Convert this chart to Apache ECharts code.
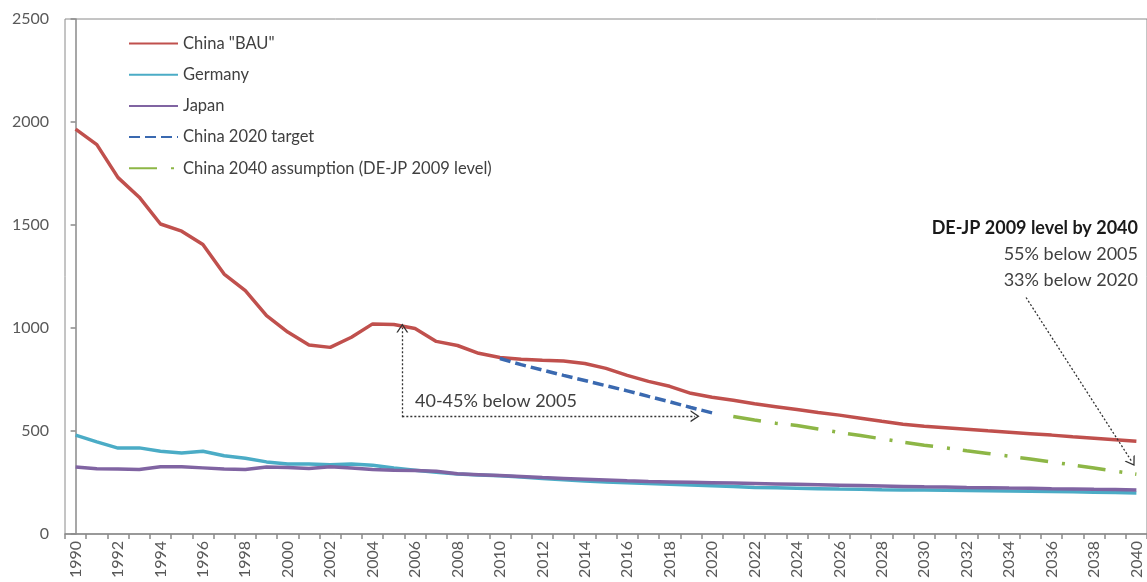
<!DOCTYPE html>
<html><head><meta charset="utf-8">
<script src="https://cdn.jsdelivr.net/npm/echarts@6/dist/echarts.min.js"></script>
<style>html,body{margin:0;padding:0;background:#fff}#c{width:1147px;height:582px}</style>
</head><body><div id="c"></div>
<script>
const years = ['1990','1991','1992','1993','1994','1995','1996','1997','1998','1999',
  '2000','2001','2002','2003','2004','2005','2006','2007','2008','2009',
  '2010','2011','2012','2013','2014','2015','2016','2017','2018','2019',
  '2020','2021','2022','2023','2024','2025','2026','2027','2028','2029',
  '2030','2031','2032','2033','2034','2035','2036','2037','2038','2039','2040'];
const yTicks = [0, 500, 1000, 1500, 2000, 2500];

const chinaBAU = [1965,1890,1730,1635,1505,1470,1405,1262,1182,1060,
  980,918,906,955,1020,1017,998,935,915,877,
  857,848,843,840,828,804,770,741,717,683,
  664,649,632,618,604,590,577,562,547,533,
  523,516,509,501,494,487,480,472,465,458,450];
const germany = [480,447,417,418,402,393,402,380,368,350,
  340,340,336,340,334,320,310,300,291,287,
  283,277,270,263,257,253,249,245,241,238,
  234,230,226,224,222,220,218,217,215,214,
  213,212,211,210,209,207,206,205,203,201,199];
const japan = [325,317,316,313,326,326,321,315,313,325,
  323,318,326,320,313,310,308,305,292,288,
  284,279,274,270,266,262,258,255,253,251,
  249,247,245,243,241,239,237,235,233,231,
  229,228,226,225,223,222,220,219,217,216,214];
const targetYears = ['2010','2011','2012','2013','2014','2015','2016','2017','2018','2019','2020'];
const target2020 = [852,822,796,770,745,720,695,668,642,614,588];
const assumpYears = ['2021','2022','2023','2024','2025','2026','2027','2028','2029','2030',
  '2031','2032','2033','2034','2035','2036','2037','2038','2039','2040'];
const assump2040 = [570,553,538,527,510,493,478,462,446,431,
  418,404,391,378,364,350,335,320,305,290];

const seriesNames = ['China "BAU"', 'Germany', 'Japan', 'China 2020 target', 'China 2040 assumption (DE-JP 2009 level)'];

// annotation arrows in (year-index, value) space
const arrowUp = [[15.4, 567], [15.4, 1000]];
const arrowRight = [[15.4, 572], [29.2, 572]];
const arrowDiag = [[44.8, 1148], [49.8, 349]];

const FONT = 'Lato';
const chevron = 'path://M0,10 L5,0 L10,10 L8.7,10 L5,2.6 L1.3,10 Z';

const chart = echarts.init(document.getElementById('c'));
const pairs = (xs, vs) => xs.map((x, i) => [x, vs[i]]);

chart.setOption({
  animation: false,
  backgroundColor: '#fff',
  textStyle: { fontFamily: FONT },
  grid: { left: 65, right: -11, top: 19, bottom: 48, show: true, borderColor: '#8a8a8a', borderWidth: 1, backgroundColor: 'transparent' },
  legend: {
    orient: 'vertical', left: 128, top: 35, padding: 0,
    itemWidth: 49, itemHeight: 14, itemGap: 14.2,
    data: seriesNames,
    itemStyle: { color: 'rgba(0,0,0,0)', borderWidth: 0, opacity: 0 },
    textStyle: { fontSize: 16.5, color: '#404040', fontFamily: FONT }
  },
  xAxis: [{
    type: 'category', data: years, boundaryGap: true,
    axisLine: { lineStyle: { color: '#8a8a8a', width: 1.5 } },
    axisTick: { show: true, interval: 0, length: 5, lineStyle: { color: '#8a8a8a', width: 1.5 } },
    axisLabel: { interval: 1, rotate: 90, margin: 7, color: '#595959', fontSize: 16, fontFamily: FONT },
    splitLine: { show: false }
  }, {
    type: 'value', min: -0.5, max: 50.5, show: false
  }],
  yAxis: {
    type: 'value', min: yTicks[0], max: yTicks[yTicks.length - 1], interval: 500,
    axisLine: { show: true, lineStyle: { color: '#8a8a8a', width: 1.5 } },
    axisTick: { show: true, length: 5, lineStyle: { color: '#8a8a8a', width: 1.5 } },
    axisLabel: { margin: 16, color: '#595959', fontSize: 16, fontFamily: FONT, formatter: v => String(v) },
    splitLine: { show: false }
  },
  series: [
    { name: seriesNames[0], type: 'line', data: chinaBAU, symbol: 'none', lineStyle: { color: '#C0504D', width: 3.5 }, itemStyle: { color: '#C0504D' } },
    { name: seriesNames[1], type: 'line', data: germany, symbol: 'none', lineStyle: { color: '#4BACC6', width: 3.5 }, itemStyle: { color: '#4BACC6' } },
    { name: seriesNames[2], type: 'line', data: japan, symbol: 'none', lineStyle: { color: '#8064A2', width: 3.5 }, itemStyle: { color: '#8064A2' } },
    { name: seriesNames[3], type: 'line', data: pairs(targetYears, target2020), symbol: 'none', lineStyle: { color: '#3A69B0', width: 3.5, type: [11, 5] }, itemStyle: { color: '#3A69B0' } },
    { name: seriesNames[4], type: 'line', data: pairs(assumpYears, assump2040), symbol: 'none', lineStyle: { color: '#8DB646', width: 3.5, type: [28, 14, 3, 13] }, itemStyle: { color: '#8DB646' } },
    {
      name: 'annotations', type: 'line', xAxisIndex: 1, data: [], symbol: 'none', silent: true,
      markLine: {
        silent: true, animation: false,
        symbol: ['none', chevron], symbolSize: [12, 9],
        label: { show: false },
        lineStyle: { color: '#333', width: 1.3, type: [2, 2] },
        emphasis: { disabled: true },
        data: [
          [{ coord: arrowUp[0] }, { coord: arrowUp[1] }],
          [{ coord: arrowRight[0] }, { coord: arrowRight[1] }],
          [{ coord: arrowDiag[0] }, { coord: arrowDiag[1] }]
        ]
      }
    }
  ],
  graphic: [
    { type: 'text', silent: true, style: { x: 415, y: 401, text: '40-45% below 2005', font: '18px ' + FONT, fill: '#404040', align: 'left', textAlign: 'left', verticalAlign: 'middle', textVerticalAlign: 'middle' } },
    { type: 'text', silent: true, style: { x: 1138, y: 228, text: 'DE-JP 2009 level by 2040', font: 'bold 18px ' + FONT, fill: '#1a1a1a', align: 'right', textAlign: 'right', verticalAlign: 'middle', textVerticalAlign: 'middle' } },
    { type: 'text', silent: true, style: { x: 1138, y: 254, text: '55% below 2005', font: '18px ' + FONT, fill: '#404040', align: 'right', textAlign: 'right', verticalAlign: 'middle', textVerticalAlign: 'middle' } },
    { type: 'text', silent: true, style: { x: 1138, y: 280, text: '33% below 2020', font: '18px ' + FONT, fill: '#404040', align: 'right', textAlign: 'right', verticalAlign: 'middle', textVerticalAlign: 'middle' } }
  ]
});
</script>
</body></html>
